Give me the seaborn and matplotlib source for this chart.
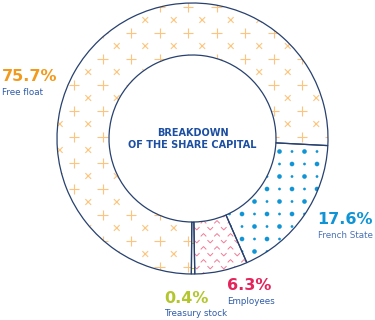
import numpy as np
import pandas as pd
import matplotlib
matplotlib.use("Agg")
import matplotlib.pyplot as plt
from matplotlib.path import Path
import seaborn as sns

# ---- data ----
categories = ["French State", "Employees", "Treasury stock", "Free float"]
shares = [17.6, 6.3, 0.4, 75.7]
pct_labels = ["17.6%", "6.3%", "0.4%", "75.7%"]
title_lines = ["BREAKDOWN", "OF THE SHARE CAPITAL"]

# ---- style ----
sns.set_theme(style="white")
plt.rcParams["font.family"] = ["DejaVu Sans"]

W, H = 375, 320
fig = plt.figure(figsize=(W / 100, H / 100), dpi=100)
ax = fig.add_axes([0, 0, 1, 1])

navy = "#27416f"
c_orange = "#f39a1c"
c_orange_l = "#fcc47c"
c_blue = "#0f94d6"
c_pink = "#e4245a"
c_pink_l = "#f27a96"
c_green = "#b3c62d"
c_text = "#2f5ca8"

cx, cy = 192.5, H - 138.5
R = 135.5
width = 52.0

wedges, _ = ax.pie(shares, startangle=-3, counterclock=False, radius=R,
                   center=(cx, cy),
                   wedgeprops=dict(width=width, facecolor="white",
                                   edgecolor=navy, linewidth=0.9))
ax.set_xlim(0, W)
ax.set_ylim(0, H)
ax.set_aspect("equal")
ax.axis("off")

# ---- fill patterns (decoration clipped to each wedge) ----
def pattern(points, marker, size, color, lw, wedge, filled=False):
    df = pd.DataFrame(points, columns=["x", "y"])
    if filled:
        sns.scatterplot(data=df, x="x", y="y", marker=marker, s=size,
                        color=color, edgecolor="none", linewidth=0, ax=ax,
                        legend=False, zorder=1)
    else:
        sns.scatterplot(data=df, x="x", y="y", marker=marker, s=size,
                        color=color, linewidth=lw, ax=ax, legend=False,
                        zorder=1)
    coll = ax.collections[-1]
    if not filled:
        coll.set_facecolor("none")
        coll.set_edgecolor(color)
        coll.set_linewidth(lw)
    coll.set_clip_path(wedge)

def grid(x0, y0, dx, dy, x1=W, y1=H):
    xs = np.arange(x0, x1, dx)
    ys = np.arange(y0, y1, dy)
    return [(x, y) for y in ys for x in xs]

w_fs, w_emp, w_tr, w_ff = wedges

# Free float: plus and cross lattice
plus_pts = [(x, H - y) for (x, y) in grid(17, 7, 28.5, 26)]
cross_pts = [(x, H - y) for (x, y) in grid(31.25, 20, 28.5, 26)]
pattern(plus_pts, "+", 55, c_orange_l, 0.8, w_ff)
pattern(cross_pts, "x", 17, c_orange_l, 0.8, w_ff)

# French State: checkerboard of big / small dots
big, small = [], []
for (x, y) in grid(4.5, 1.5, 12.5, 12.5):
    i = int(round((x - 4.5) / 12.5)); j = int(round((y - 1.5) / 12.5))
    (big if (i + j) % 2 == 0 else small).append((x, H - y))
pattern(big, "o", 11, c_blue, 0, w_fs, filled=True)
pattern(small, "o", 4, c_blue, 0, w_fs, filled=True)

# Employees: chevrons
up = Path([(-1, -0.5), (0, 0.5), (1, -0.5)], [Path.MOVETO, Path.LINETO, Path.LINETO])
dn = Path([(-1, 0.5), (0, -0.5), (1, 0.5)], [Path.MOVETO, Path.LINETO, Path.LINETO])
up_pts = [(x, H - y) for (x, y) in grid(1, 1, 13.5, 13)]
dn_pts = [(x, H - y) for (x, y) in grid(7.75, 7.5, 13.5, 13)]
pattern(up_pts, up, 16, c_pink_l, 0.7, w_emp)
pattern(dn_pts, dn, 16, c_pink_l, 0.7, w_emp)

# Treasury stock: green plus
tr_pts = [(191, H - y) for y in np.arange(218, 290, 25)]
pattern(tr_pts, "+", 14, c_green, 0.7, w_tr)

# bring wedges (edges) above patterns
for w in wedges:
    w.set_zorder(2)
    w.set_facecolor("none")

# ---- texts ----
ax.text(cx, H - 133, title_lines[0], ha="center", va="center",
        fontsize=7, fontweight="bold", color="#1c4fa2")
ax.text(cx, H - 145.5, title_lines[1], ha="center", va="center",
        fontsize=7, fontweight="bold", color="#1c4fa2")

big_fs = 11.5
small_fs = 6.3
ax.text(2, H - 76.5, pct_labels[3], ha="left", va="center",
        fontsize=big_fs, fontweight="bold", color=c_orange)
ax.text(2, H - 92.5, categories[3], ha="left", va="center",
        fontsize=small_fs, color=c_text)

ax.text(373, H - 220, pct_labels[0], ha="right", va="center",
        fontsize=big_fs, fontweight="bold", color=c_blue)
ax.text(373, H - 235, categories[0], ha="right", va="center",
        fontsize=small_fs, color="#4a72b5")

ax.text(227, H - 285, pct_labels[1], ha="left", va="center",
        fontsize=big_fs, fontweight="bold", color=c_pink)
ax.text(227, H - 302, categories[1], ha="left", va="center",
        fontsize=small_fs, color=c_text)

ax.text(164, H - 298.5, pct_labels[2], ha="left", va="center",
        fontsize=big_fs, fontweight="bold", color=c_green)
ax.text(164, H - 314, categories[2], ha="left", va="center",
        fontsize=small_fs, color=c_text)

fig.savefig("out.png", dpi=100, facecolor="white")
